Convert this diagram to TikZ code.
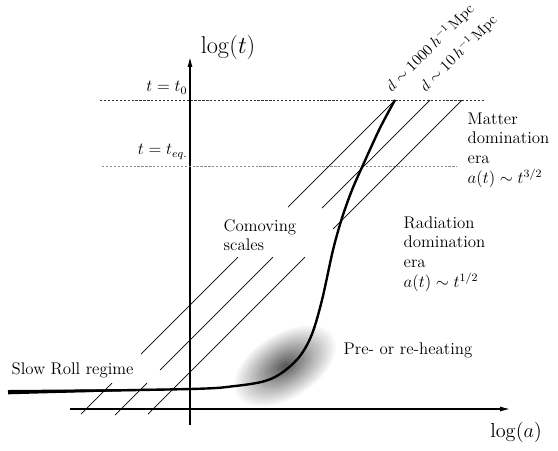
\documentclass[tikz,border=0pt]{standalone}
\usepackage{tikz}
\usetikzlibrary{arrows.meta}

\begin{document}
\begin{tikzpicture}[x=0.025cm,y=-0.025cm,
  every node/.style={font=\large,inner sep=1pt},
  axis/.style={-{Latex[length=7pt,width=3.5pt]},line width=0.8pt},
  epoch/.style={dash pattern=on 1.6pt off 1.2pt,line width=0.7pt},
  scaleline/.style={line width=0.5pt},
  history/.style={line width=1.7pt,line join=round},
  era/.style={align=left,anchor=west},
  dlabel/.style={font=\fontsize{10.5}{12}\selectfont,rotate=45,anchor=south west},
]
\useasboundingbox (0,0) rectangle (558,450);

% reheating blob
\foreach \k [evaluate=\k as \g using int(2.7*\k), evaluate=\k as \s using 1-\k/25] in {0,...,24}
  \fill[black!\g,rotate around={32:(285,366)}] (285,366) ellipse [x radius=\s*42pt, y radius=\s*24pt];

% axes
\draw[axis] (70,409) -- (510,409);
\draw[axis] (190,425) -- (190,57);
\node[font=\LARGE] (logt) at (228,47) {$\log(t)$};
\node[font=\Large] (loga) at (516,432) {$\log(a)$};

% epochs
\draw[epoch,black!80] (100,100) -- (484,100);
\draw[epoch,black!45] (102,166) -- (457,166);
\node[anchor=east] (t0) at (189,88) {$t=t_0$};
\node[anchor=east] (teq) at (189,152) {$t=t_{eq.}$};

% comoving scales
\draw[scaleline] (395,100) -- (288,207) (238,257) -- (141,354) (112,383) -- (81,414);
\draw[scaleline] (430,100) -- (322,208) (273,257) -- (160,370) (147,383) -- (115,415);
\draw[scaleline] (462,100) -- (333,229) (305,257) -- (148,414);
\node[dlabel] (d1000) at (394,97) {$d\sim1000\,h^{-1}$\,Mpc};
\node[dlabel] (d10) at (428,97) {$d\sim10\,h^{-1}$\,Mpc};

% history of the universe
\fill (8,390) -- (190,388.6) -- (190,389.4) -- (8,394.3) -- cycle;
\draw[history] plot[smooth,tension=0.55] coordinates {(8,392) (190,389) (235,386) (265,381) (283,372) (300,356) (312,334) (322,300) (333,250) (342,218) (352,190) (363,165) (380,128) (395,100)};

% labels
\node[era] (slow) at (10,370) {Slow Roll regime};
\node[era] (comoving) at (222,235) {Comoving\\scales};
\node[era] (heating) at (342,350) {Pre- or re-heating};
\node[era] (radiation) at (402,254) {Radiation\\domination\\era\\$a(t)\sim t^{1/2}$};
\node[era] (matter) at (466,150) {Matter\\domination\\era\\$a(t)\sim t^{3/2}$};
\end{tikzpicture}
\end{document}
